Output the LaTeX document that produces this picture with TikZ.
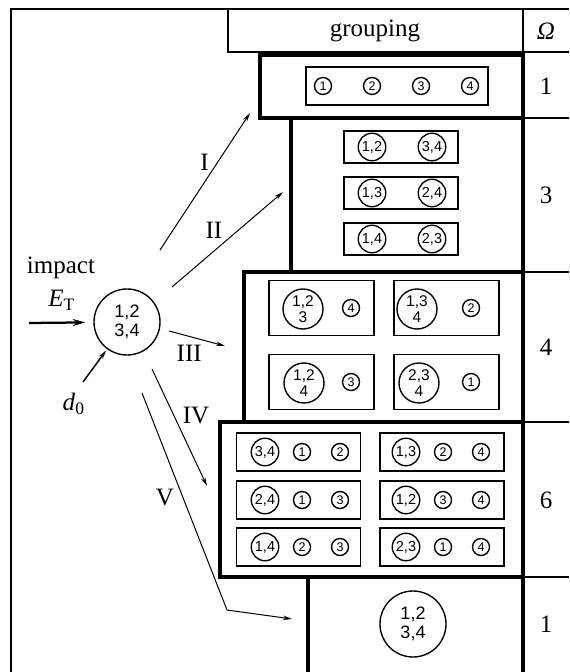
\documentclass[tikz,border=0pt]{standalone}
\usepackage{fontspec}
\setmainfont{Liberation Serif}
\setsansfont{Liberation Sans}
\usetikzlibrary{arrows.meta}

\begin{document}
\begin{tikzpicture}[x=0.4pt, y=-0.4pt,
        rule/.style={line width=0.6pt},
        grp/.style={line width=1.4pt},
        cell/.style={draw, line width=0.5pt, inner sep=0pt},
        one/.style={circle, draw, line width=0.55pt, inner sep=0pt,
            minimum size=6.8pt, font=\sffamily\fontsize{5}{5}\selectfont},
        pair/.style={one, minimum size=11pt,
            font=\sffamily\fontsize{5.8}{5.8}\selectfont},
        triple/.style={one, minimum size=16pt, align=center,
            font=\sffamily\fontsize{6.2}{6.4}\selectfont},
        whole/.style={one, minimum size=26.4pt, align=center,
            font=\sffamily\fontsize{7.2}{7.4}\selectfont},
        tip/.style={-{Stealth[length=3.6pt,width=1.8pt]}, line width=0.4pt}]
    \useasboundingbox (0,0) rectangle (569,672);

    % table frame
    \draw[rule] (569,9) -- (11,9) -- (11,672);
    \draw[rule] (228,9) -- (228,52) -- (569,52);
    \draw[rule] (523,9) -- (523,672);
    \foreach \y in {118,272,422,577}
        \draw[rule] (523,\y) -- (569,\y);
    \draw[grp] (260,55) rectangle (523,118);
    \draw[grp] (291,118) rectangle (523,272);
    \draw[grp] (244,272) rectangle (523,422);
    \draw[grp] (220,422) rectangle (523,577);
    \draw[grp] (308,672) -- (308,577) -- (523,577) -- (523,672);

    \node (head) at (375,31) {grouping};
    \node (om) at (546,31) {\itshape Ω};
    \node (w1) at (546,86) {1};
    \node (w2) at (546,195) {3};
    \node (w3) at (546,347) {4};
    \node (w4) at (546,500) {6};
    \node (w5) at (546,624) {1};

    % I
    \node[cell, minimum width=72.8pt, minimum height=15.2pt] (c1) at (397,86) {};
    \node[one] (c1a) at (323,86) {1};
    \node[one] (c1b) at (372,86) {2};
    \node[one] (c1c) at (421,86) {3};
    \node[one] (c1d) at (470,86) {4};

    % II
    \node[cell, minimum width=45.6pt, minimum height=12.8pt] (c2) at (401,147) {};
    \node[pair] (c2a) at (372,147) {1,2};
    \node[pair] (c2b) at (432,147) {3,4};
    \node[cell, minimum width=45.6pt, minimum height=12.8pt] (c3) at (401,193) {};
    \node[pair] (c3a) at (372,193) {1,3};
    \node[pair] (c3b) at (432,193) {2,4};
    \node[cell, minimum width=45.6pt, minimum height=12.8pt] (c4) at (401,239) {};
    \node[pair] (c4a) at (372,239) {1,4};
    \node[pair] (c4b) at (432,239) {2,3};

    % III
    \node[cell, minimum width=42pt, minimum height=22pt] (c5) at (321.5,308) {};
    \node[triple] (c5a) at (303,309) {1,2\\3};
    \node[one] (c5b) at (351,308) {4};
    \node[cell, minimum width=42pt, minimum height=22pt] (c6) at (446.5,308) {};
    \node[triple] (c6a) at (417,309) {1,3\\4};
    \node[one] (c6b) at (471,308) {2};
    \node[cell, minimum width=42pt, minimum height=22pt] (c7) at (321.5,382) {};
    \node[triple] (c7a) at (304,383) {1,2\\4};
    \node[one] (c7b) at (351,382) {3};
    \node[cell, minimum width=42pt, minimum height=22pt] (c8) at (446.5,382) {};
    \node[triple] (c8a) at (419,383) {2,3\\4};
    \node[one] (c8b) at (471,382) {1};

    % IV
    \node[cell, minimum width=49.6pt, minimum height=15.2pt] (c9) at (298.5,452) {};
    \node[pair] (c9a) at (265,452) {3,4};
    \node[one] (c9b) at (302,452) {1};
    \node[one] (c9c) at (340,452) {2};
    \node[cell, minimum width=49.6pt, minimum height=15.2pt] (c10) at (442,452) {};
    \node[pair] (c10a) at (406,452) {1,3};
    \node[one] (c10b) at (443,452) {2};
    \node[one] (c10c) at (481,452) {4};
    \node[cell, minimum width=49.6pt, minimum height=15.2pt] (c11) at (298.5,500) {};
    \node[pair] (c11a) at (265,500) {2,4};
    \node[one] (c11b) at (302,500) {1};
    \node[one] (c11c) at (340,500) {3};
    \node[cell, minimum width=49.6pt, minimum height=15.2pt] (c12) at (442,500) {};
    \node[pair] (c12a) at (406,500) {1,2};
    \node[one] (c12b) at (443,500) {3};
    \node[one] (c12c) at (481,500) {4};
    \node[cell, minimum width=49.6pt, minimum height=15.2pt] (c13) at (298.5,547) {};
    \node[pair] (c13a) at (265,547) {1,4};
    \node[one] (c13b) at (302,547) {2};
    \node[one] (c13c) at (340,547) {3};
    \node[cell, minimum width=49.6pt, minimum height=15.2pt] (c14) at (442,547) {};
    \node[pair] (c14a) at (406,547) {2,3};
    \node[one] (c14b) at (443,547) {1};
    \node[one] (c14c) at (481,547) {4};

    % V
    \node[whole] (c15) at (413,624) {1,2\\3,4};

    % impact
    \node[whole] (imp) at (127,322) {1,2\\3,4};
    \node (lab) at (61,268) {impact};
    \node (et) at (62,300) {\textit{E}\textsubscript{T}};
    \node (dn) at (74,404) {\textit{d}\textsubscript{0}};
    \coordinate (e0) at (29,323);
    \coordinate (d0) at (83,382);
    \draw[-{Stealth[length=5pt,width=2.8pt]}, line width=0.9pt, shorten >=3.2pt] (e0) -- (imp);
    \draw[tip, line width=0.6pt, shorten >=0.6pt] (d0) -- (imp);

    \coordinate (i0) at (160,250);   \coordinate (i1) at (250,113);
    \coordinate (ii0) at (172,287);  \coordinate (ii1) at (283,192);
    \coordinate (iii0) at (169,331); \coordinate (iii1) at (225,346);
    \coordinate (iv0) at (152,369);  \coordinate (iv1) at (207,486);
    \coordinate (v0) at (142,393);   \coordinate (v1) at (227,610);
    \coordinate (v2) at (292,619);
    \path[tip]
    (i0) edge node[left, pos=.64] {I} (i1)
    (ii0) edge node[above left, pos=.48, inner sep=1pt] {II} (ii1)
    (iii0) edge node[below, pos=.36] {III} (iii1)
    (iv0) edge node[right, pos=.4] {IV} (iv1);
    \draw[tip] (v0) -- node[left, pos=.48] {V} (v1) -- (v2);
\end{tikzpicture}
\end{document}
